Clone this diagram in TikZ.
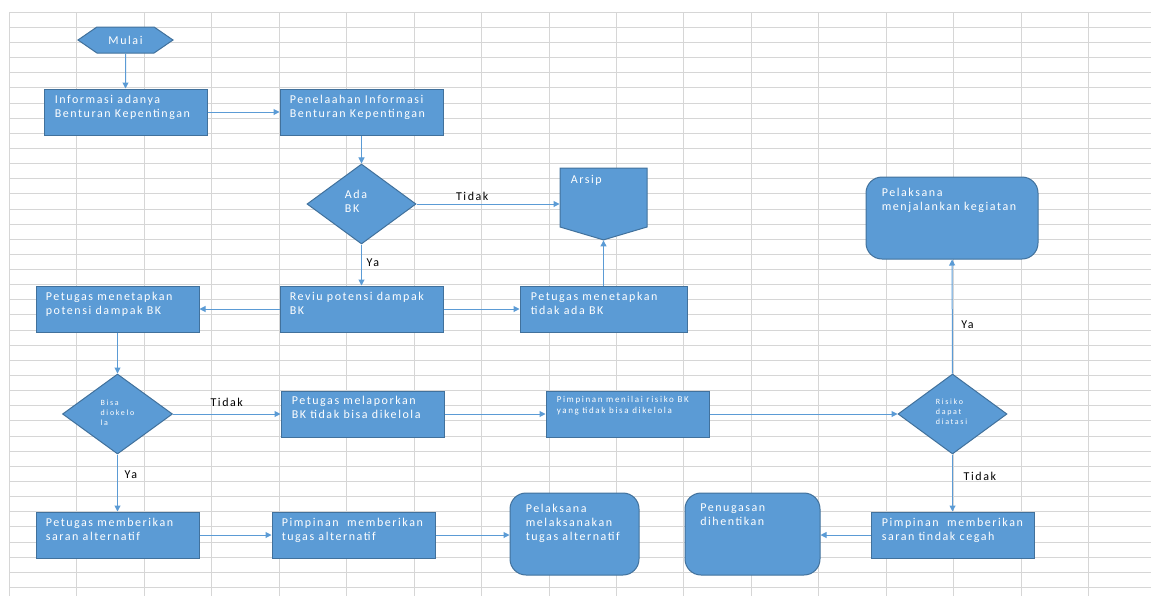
\documentclass[tikz,border=0pt]{standalone}
\usepackage{fontspec}
\setmainfont{Carlito}
\newfontfamily\isifont{Carlito}[LetterSpace=13]
\newfontfamily\sedangfont{Carlito}[LetterSpace=18]
\newfontfamily\kecilfont{Carlito}[LetterSpace=21]
\usetikzlibrary{arrows.meta}
\usetikzlibrary{shapes.geometric,shapes.symbols}

\definecolor{biru}{HTML}{5B9BD5}
\definecolor{birutua}{HTML}{41719C}
\definecolor{kisi}{HTML}{D6D6D6}

\def\px{0.75pt}

\tikzset{
  kotak/.style={rectangle, draw=birutua, fill=biru, line width=0.75pt,
    minimum width=163*\px, minimum height=46*\px, inner sep=0pt},
  bulat/.style={kotak, rounded corners=12pt, minimum height=82*\px},
  keputusan/.style={diamond, draw=birutua, fill=biru, line width=0.75pt,
    minimum width=109*\px, minimum height=80*\px, inner sep=0pt},
  isi/.style={anchor=north west, inner sep=0pt, align=left, text=white,
    font=\isifont\fontsize{9pt}{10.5pt}\selectfont},
  isisedang/.style={isi, font=\sedangfont\fontsize{6.75pt}{8.25pt}\selectfont},
  isikecil/.style={inner sep=0pt, align=left, text=white,
    font=\kecilfont\fontsize{6pt}{7.5pt}\selectfont},
  panah/.style={draw=biru, line width=0.75pt,
    -{Triangle[length=4.5pt,width=4.5pt]}},
  ket/.style={font=\isifont\fontsize{9pt}{10.5pt}\selectfont, text=black,
    inner sep=2pt},
}

\begin{document}
\begin{tikzpicture}[x=0.75pt, y=-0.75pt]

\useasboundingbox (0,0) rectangle (1151,596);

% kisi-kisi lembar kerja
\foreach \j in {0,...,38}{
  \pgfmathsetmacro{\y}{round(11.7+15.14*\j)+0.5}
  \draw[kisi, line width=1pt] (9,\y) -- (1151,\y);
}
\foreach \i in {0,...,16}{
  \pgfmathsetmacro{\x}{round(9+67.44*\i)+0.5}
  \draw[kisi, line width=1pt] (\x,12) -- (\x,596);
}

% baris atas
\node[signal, signal to=west and east, signal pointer angle=69,
  draw=birutua, fill=biru, line width=0.75pt, inner sep=0pt,
  minimum width=95*\px, minimum height=26*\px,
  text=white, font=\isifont\fontsize{9pt}{10.5pt}\selectfont]
  (mulai) at (125.5,40) {Mulai};

\node[kotak, label={[isi, xshift=11*\px, yshift=-6*\px]north west:Informasi adanya\\Benturan Kepentingan}]
  (info) at (125.5,112) {};
\node[kotak, label={[isi, xshift=10*\px, yshift=-6*\px]north west:Penelaahan Informasi\\Benturan Kepentingan}]
  (telaah) at (361.5,112) {};

\node[keputusan, label={[isi, anchor=center, xshift=-5.5*\px, yshift=3*\px]center:Ada\\BK}]
  (ada) at (361.5,204) {};

\node[signal, signal to=south, signal pointer angle=147,
  draw=birutua, fill=biru, line width=0.75pt, inner sep=0pt,
  minimum width=87*\px, minimum height=59*\px,
  label={[isi, xshift=11*\px, yshift=-7*\px]north west:Arsip}]
  (arsip) at (603.5,197.5) {};

\node[bulat, minimum width=172*\px,
  label={[isi, xshift=16*\px, yshift=-11*\px]north west:Pelaksana\\menjalankan kegiatan}]
  (jalan) at (952,218) {};

% baris tengah
\node[kotak, label={[isi, xshift=10*\px, yshift=-6*\px]north west:Petugas menetapkan\\potensi dampak BK}]
  (potensi) at (117.5,309) {};
\node[kotak, label={[isi, xshift=10*\px, yshift=-6*\px]north west:Reviu potensi dampak\\BK}]
  (reviu) at (361.5,309) {};
\node[kotak, minimum width=167*\px,
  label={[isi, xshift=11*\px, yshift=-6*\px]north west:Petugas menetapkan\\tidak ada BK}]
  (tidakada) at (603.5,309) {};

\node[keputusan, minimum width=110*\px,
  label={[isikecil, xshift=0*\px, yshift=1.5*\px]center:Bisa\\diokelo\\la}]
  (bisa) at (117.5,414) {};
\node[kotak, label={[isi, xshift=11*\px, yshift=-5*\px]north west:Petugas melaporkan\\BK tidak bisa dikelola}]
  (lapor) at (362.5,414) {};
\node[kotak, label={[isisedang, xshift=11*\px, yshift=-5*\px]north west:Pimpinan menilai risiko BK\\yang tidak bisa dikelola}]
  (nilai) at (627.5,414) {};
\node[keputusan, label={[isikecil, xshift=-1*\px, yshift=2*\px]center:Risiko\\dapat\\diatasi}]
  (risiko) at (952.5,414) {};

% baris bawah
\node[kotak, label={[isi, xshift=10*\px, yshift=-6*\px]north west:Petugas memberikan\\saran alternatif}]
  (saranalt) at (117.5,535) {};
\node[kotak, label={[isi, xshift=10*\px, yshift=-6*\px]north west:Pimpinan~ memberikan\\tugas alternatif}]
  (tugasalt) at (353.5,535) {};
\node[bulat, minimum width=129*\px,
  label={[isi, xshift=16*\px, yshift=-11*\px]north west:Pelaksana\\melaksanakan\\tugas alternatif}]
  (laksana) at (574.5,534) {};
\node[bulat, minimum width=135*\px,
  label={[isi, xshift=15.5*\px, yshift=-11*\px]north west:Penugasan\\dihentikan}]
  (henti) at (752.5,534) {};
\node[kotak, label={[isi, xshift=11*\px, yshift=-6*\px]north west:Pimpinan~ memberikan\\saran tindak cegah}]
  (cegah) at (952.5,535) {};

% alur
\draw[panah] (mulai) -- (info);
\draw[panah] (info) -- (telaah);
\draw[panah] (telaah) -- (ada);
\draw[panah] (ada.east) -- (ada.east -| arsip.west)
  node[ket, above, pos=0.39] {Tidak};
\draw[panah] (ada) -- (reviu)
  node[ket, right=1.5pt, pos=0.45] {Ya};
\draw[panah] (reviu) -- (potensi);
\draw[panah] (reviu) -- (tidakada);
\draw[panah] (tidakada) -- (arsip);
\draw[panah] (potensi) -- (bisa);
\draw[panah] (bisa) -- (lapor)
  node[ket, above=3pt, midway] {Tidak};
\draw[panah] (bisa) -- (saranalt)
  node[ket, right=3pt, pos=0.36] {Ya};
\draw[panah] (lapor) -- (nilai);
\draw[panah] (nilai) -- (risiko);
\draw[panah] (risiko) -- (jalan)
  node[ket, right=4.4pt, pos=0.43] {Ya};
\draw[panah] (risiko) -- (cegah)
  node[ket, right=6pt, pos=0.38] {Tidak};
\draw[panah] (cegah.west) -- (cegah.west -| henti.east);
\draw[panah] (saranalt) -- (tugasalt);
\draw[panah] (tugasalt.east) -- (tugasalt.east -| laksana.west);

\end{tikzpicture}
\end{document}
